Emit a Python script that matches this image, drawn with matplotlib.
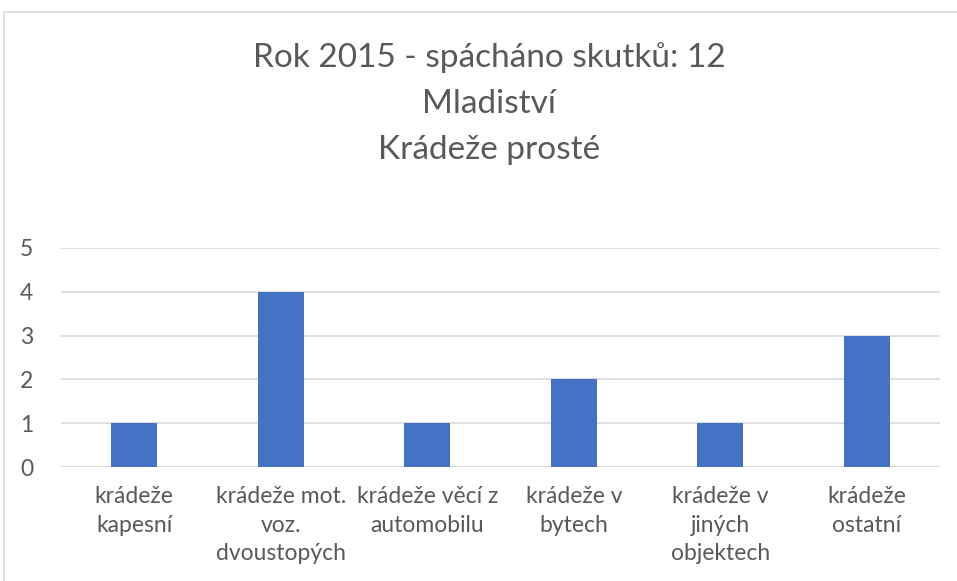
import matplotlib.pyplot as plt
from matplotlib.patches import Rectangle

plt.rcParams['font.family'] = ['Lato', 'DejaVu Sans']

categories = ['krádeže\nkapesní', 'krádeže mot.\nvoz.\ndvoustopých', 'krádeže věcí z\nautomobilu',
              'krádeže v\nbytech', 'krádeže v\njiných\nobjektech', 'krádeže\nostatní']
values = [1, 4, 1, 2, 1, 3]
title_lines = ['Rok 2015 - spácháno skutků: 12', 'Mladiství', 'Krádeže prosté']

fig = plt.figure(figsize=(9.57, 5.81), dpi=100)
# chart frame
fig.patches.append(Rectangle((4 / 957, -0.1), 1.2, (581 - 12) / 581 + 0.1, transform=fig.transFigure,
                             fill=False, edgecolor='#d9d9d9', linewidth=1.2))

ax = fig.add_axes([61 / 957, 114 / 581, 879 / 957, 219 / 581])
x = range(len(categories))
ax.bar(x, values, width=0.314, color='#4472c4', zorder=3)
ax.set_xlim(-0.5, len(categories) - 0.5)
ax.set_ylim(0, 5)
ax.set_yticks(range(6))
ax.yaxis.grid(True, color='#d9d9d9', linewidth=1.2, zorder=0)
for s in ax.spines.values():
    s.set_visible(False)
ax.axhline(0, color='#d9d9d9', linewidth=1.2, zorder=2)
ax.tick_params(axis='both', length=0, colors='#595959', labelsize=16.5)
ax.tick_params(axis='y', pad=20)
ax.tick_params(axis='x', pad=14)
ax.set_xticks(list(x))
ax.set_xticklabels(categories, linespacing=1.42)

for i, t in enumerate(title_lines):
    fig.text(489 / 957, 1 - (58 + 46 * i) / 581, t, ha='center', va='center', fontsize=24, color='#595959')

fig.savefig('out.png', dpi=100)
